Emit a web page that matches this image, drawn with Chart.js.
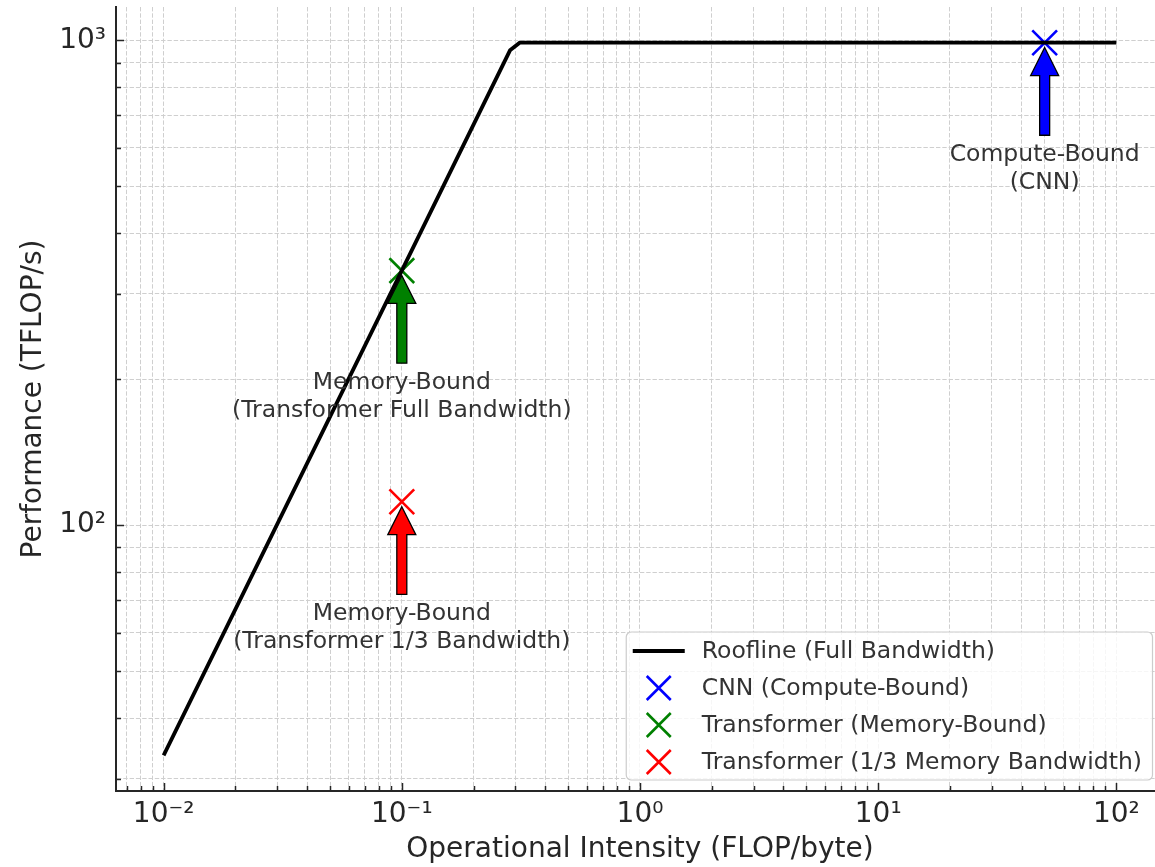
<!DOCTYPE html>
<html>
<head>
<meta charset="utf-8">
<script src="https://cdn.jsdelivr.net/npm/chart.js@4"></script>
<style>
  html, body { margin: 0; padding: 0; background: #fff; overflow: hidden; }
  #chart { display: block; }
</style>
</head>
<body>
<canvas id="chart" width="1170" height="867"></canvas>
<script>
// roofline (knee)
const rooflineX = [0.01, 0.2847, 0.3126, 100];
const rooflineY = [33.5, 953.8, 989, 989];

// workload points
const pointLabels = ['CNN (Compute-Bound)', 'Transformer (Memory-Bound)', 'Transformer (1/3 Memory Bandwidth)'];
const pointX = [50, 0.1, 0.1];
const pointY = [989, 335, 111.7];
const pointColors = ['#0000ff', '#008000', '#ff0000'];

// annotation texts, anchored at (x, y/2)
const noteLines = [
  ['Compute-Bound', '(CNN)'],
  ['Memory-Bound', '(Transformer Full Bandwidth)'],
  ['Memory-Bound', '(Transformer 1/3 Bandwidth)']
];
const noteY = [494.5, 167.5, 55.85];

// axes
const xDecades = [0.001, 0.01, 0.1, 1, 10, 100];
const yDecades = [10, 100, 1000];
const xRange = [0.00631, 158.5];
const yRange = [28.28, 1171.8];

const FONT = '"DejaVu Sans", sans-serif';
const TEXT = '#262626';
const NOTE_SIZE = 23.5;
const SUP = { '-': '\u207B', '0': '\u2070', '1': '\u00B9', '2': '\u00B2', '3': '\u00B3' };

function logTicks(decades, lo, hi) {
  const out = [];
  decades.forEach(d => {
    for (let m = 1; m < 10; m++) {
      const v = +(d * m).toPrecision(6);
      if (v >= lo && v <= hi) out.push({ value: v, major: m === 1 });
    }
  });
  return out;
}

function decadeLabel(v) {
  const e = Math.log10(v);
  if (Math.abs(e - Math.round(e)) > 1e-6) return '';
  return '10' + String(Math.round(e)).split('').map(c => SUP[c]).join('');
}

// keep the plot box where the reference has it
function noScalePadding(s) {
  s.paddingTop = 0;
  s.paddingBottom = 0;
  s.paddingLeft = 0;
  s.paddingRight = 0;
}

// inward tick marks, matplotlib style
const tickMarks = {
  id: 'tickMarks',
  afterDatasetsDraw(chart) {
    const { ctx, chartArea: ca, scales: { x, y } } = chart;
    ctx.save();
    ctx.strokeStyle = TEXT;
    ctx.lineWidth = 1.5;
    x.ticks.forEach(t => {
      const px = Math.round(x.getPixelForValue(t.value)) + 0.5;
      ctx.beginPath();
      ctx.moveTo(px, ca.bottom);
      ctx.lineTo(px, ca.bottom - (t.major ? 8 : 5));
      ctx.stroke();
    });
    y.ticks.forEach(t => {
      const py = Math.round(y.getPixelForValue(t.value)) + 0.5;
      ctx.beginPath();
      ctx.moveTo(ca.left, py);
      ctx.lineTo(ca.left + (t.major ? 8 : 5), py);
      ctx.stroke();
    });
    ctx.restore();
  }
};

// arrows + labels under each point
const annotate = {
  id: 'annotate',
  afterDatasetsDraw(chart) {
    const { ctx, scales: { x, y } } = chart;
    const lh = 27.5;
    ctx.save();
    ctx.font = NOTE_SIZE + 'px ' + FONT;
    ctx.textAlign = 'center';
    ctx.textBaseline = 'alphabetic';
    pointX.forEach((vx, i) => {
      const cx = x.getPixelForValue(vx);
      const py = y.getPixelForValue(pointY[i]);
      const base = y.getPixelForValue(noteY[i]);
      const lines = noteLines[i];
      const top = base - (lines.length - 1) * lh - 21;
      const len = top - py;
      const tip = py + 0.05 * len;
      const tail = top - 0.05 * len;
      ctx.beginPath();
      ctx.moveTo(cx, tip);
      ctx.lineTo(cx + 14, tip + 28);
      ctx.lineTo(cx + 5, tip + 28);
      ctx.lineTo(cx + 5, tail);
      ctx.lineTo(cx - 5, tail);
      ctx.lineTo(cx - 5, tip + 28);
      ctx.lineTo(cx - 14, tip + 28);
      ctx.closePath();
      ctx.fillStyle = pointColors[i];
      ctx.fill();
      ctx.lineWidth = 1.3;
      ctx.strokeStyle = '#000';
      ctx.stroke();
      ctx.fillStyle = '#333';
      lines.forEach((t, k) => ctx.fillText(t, cx, base - (lines.length - 1 - k) * lh));
    });
    ctx.restore();
  }
};

// legend box in the lower right corner
const cornerLegend = {
  id: 'cornerLegend',
  afterDraw(chart) {
    const { ctx, chartArea: ca } = chart;
    const sets = chart.data.datasets;
    ctx.save();
    ctx.font = NOTE_SIZE + 'px ' + FONT;
    const textW = Math.max(...sets.map(d => ctx.measureText(d.label).width));
    const w = 75.5 + textW + 10.5;
    const h = 148;
    const left = ca.right - 11.5 - w;
    const top = ca.bottom - 11 - h;
    ctx.beginPath();
    ctx.roundRect(left, top, w, h, 5);
    ctx.fillStyle = 'rgba(255,255,255,0.8)';
    ctx.fill();
    ctx.strokeStyle = '#cccccc';
    ctx.lineWidth = 1.2;
    ctx.stroke();
    const hx = left + 32.5;
    sets.forEach((d, i) => {
      const cy = top + 19 + i * 37;
      ctx.strokeStyle = d.borderColor;
      ctx.lineWidth = d.borderWidth;
      ctx.beginPath();
      if (d.showLine) {
        ctx.moveTo(hx - 26, cy);
        ctx.lineTo(hx + 26, cy);
      } else {
        ctx.moveTo(hx - 12, cy - 12);
        ctx.lineTo(hx + 12, cy + 12);
        ctx.moveTo(hx + 12, cy - 12);
        ctx.lineTo(hx - 12, cy + 12);
      }
      ctx.stroke();
      ctx.fillStyle = '#333';
      ctx.textBaseline = 'middle';
      ctx.fillText(d.label, left + 75.5, cy + 1);
    });
    ctx.restore();
  }
};

const datasets = [{
  label: 'Roofline (Full Bandwidth)',
  data: rooflineX.map((v, i) => ({ x: v, y: rooflineY[i] })),
  showLine: true,
  borderColor: '#000',
  borderWidth: 3.8,
  pointRadius: 0,
  tension: 0
}];
pointLabels.forEach((label, i) => {
  datasets.push({
    label,
    data: [{ x: pointX[i], y: pointY[i] }],
    showLine: false,
    pointStyle: 'crossRot',
    pointRadius: 17.5,
    borderColor: pointColors[i],
    backgroundColor: pointColors[i],
    borderWidth: 2.6
  });
});

const gridOpts = { color: '#cfcfcf', lineWidth: 1, drawTicks: false };
const borderOpts = { display: true, color: TEXT, width: 2, dash: [4.4, 1.9] };

new Chart(document.getElementById('chart'), {
  type: 'scatter',
  data: { datasets },
  options: {
    responsive: false,
    animation: false,
    layout: { autoPadding: false, padding: { top: 7, right: 6, left: 0, bottom: 0 } },
    plugins: { legend: { display: false }, tooltip: { enabled: false }, title: { display: false } },
    scales: {
      x: {
        type: 'logarithmic',
        min: xRange[0],
        max: xRange[1],
        afterBuildTicks: s => { s.ticks = logTicks(xDecades, xRange[0], xRange[1]); },
        afterFit: s => { s.height = 76; noScalePadding(s); },
        grid: gridOpts,
        border: borderOpts,
        ticks: {
          autoSkip: false, maxRotation: 0, padding: 7,
          color: TEXT, font: { family: FONT, size: 28 },
          callback: v => decadeLabel(v)
        },
        title: {
          display: true, text: 'Operational Intensity (FLOP/byte)',
          color: TEXT, font: { family: FONT, size: 28 }, padding: { top: 0, bottom: 0 }
        }
      },
      y: {
        type: 'logarithmic',
        min: yRange[0],
        max: yRange[1],
        afterBuildTicks: s => { s.ticks = logTicks(yDecades, yRange[0], yRange[1]); },
        afterFit: s => { s.width = 116; noScalePadding(s); },
        grid: gridOpts,
        border: borderOpts,
        ticks: {
          autoSkip: false, padding: 10,
          color: TEXT, font: { family: FONT, size: 28 },
          callback: v => decadeLabel(v)
        },
        title: {
          display: true, text: 'Performance (TFLOP/s)',
          color: TEXT, font: { family: FONT, size: 28 }, padding: { top: 17, bottom: 0 }
        }
      }
    }
  },
  plugins: [tickMarks, annotate, cornerLegend]
});
</script>
</body>
</html>
